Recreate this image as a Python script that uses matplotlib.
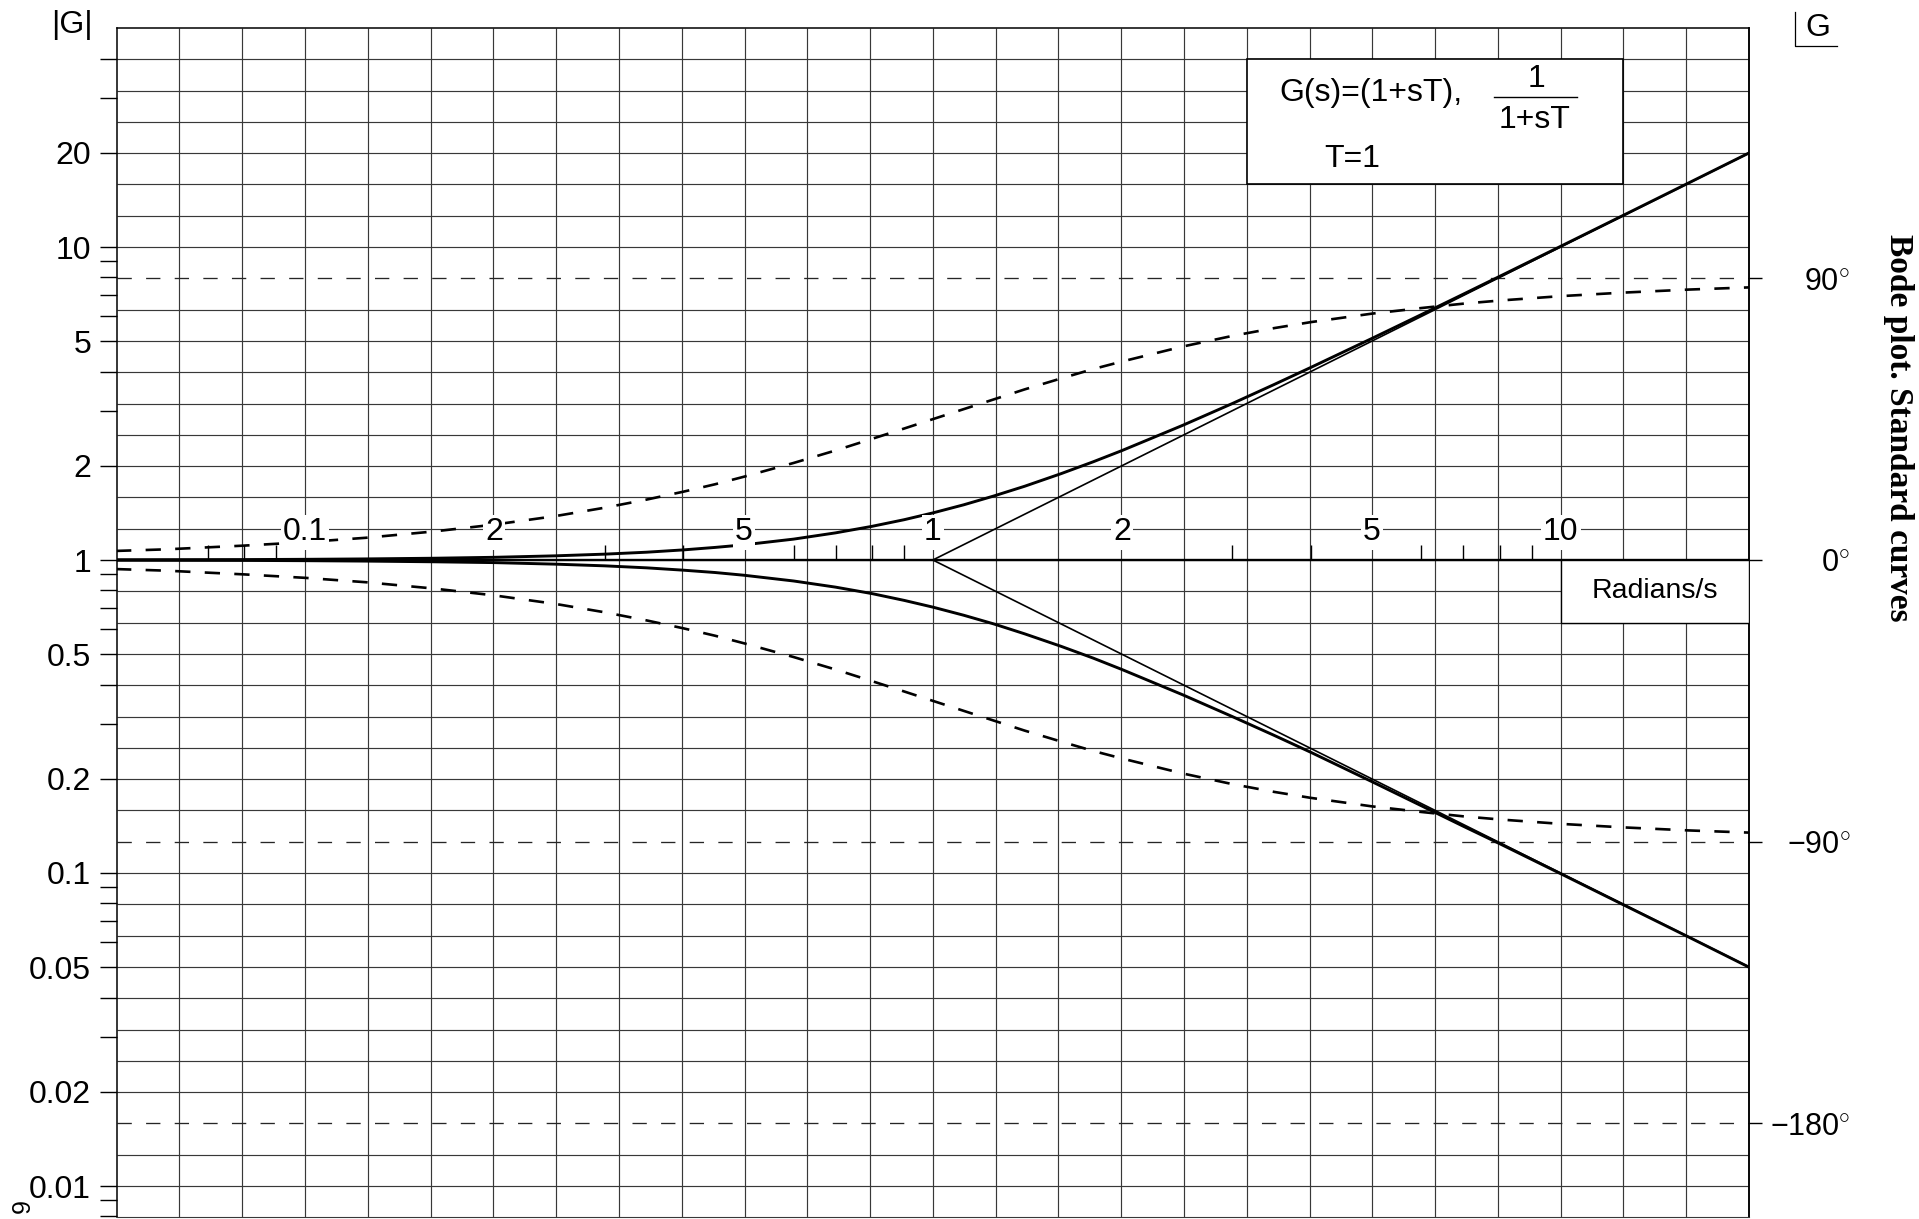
import matplotlib
matplotlib.use('Agg')
import matplotlib.pyplot as plt
import numpy as np
from matplotlib.patches import Rectangle
from matplotlib.lines import Line2D
from matplotlib.ticker import NullFormatter, NullLocator

plt.rcParams['font.family'] = ['Liberation Sans', 'DejaVu Sans']
plt.rcParams['mathtext.fontset'] = 'custom'
plt.rcParams['mathtext.rm'] = 'Liberation Sans'
plt.rcParams['mathtext.it'] = 'Liberation Sans:italic'
plt.rcParams['mathtext.bf'] = 'Liberation Sans:bold'
plt.rcParams['lines.scale_dashes'] = False

# ---------------- data ----------------
omega = [0.05, 0.06, 0.08, 0.1, 0.125, 0.16, 0.2, 0.25, 0.3, 0.35, 0.4, 0.45,
         0.5, 0.6, 0.7, 0.8, 0.9, 1.0, 1.12, 1.25, 1.4, 1.6, 1.8, 2.0, 2.5,
         3.0, 3.5, 4.0, 5.0, 6.0, 7.0, 8.0, 10.0, 12.5, 16.0, 20.0]
mag_lead = [1.001, 1.002, 1.003, 1.005, 1.008, 1.013, 1.020, 1.031, 1.044,
            1.059, 1.077, 1.097, 1.118, 1.166, 1.221, 1.281, 1.345, 1.414,
            1.501, 1.601, 1.720, 1.887, 2.059, 2.236, 2.693, 3.162, 3.640,
            4.123, 5.099, 6.083, 7.071, 8.062, 10.05, 12.54, 16.03, 20.02]
mag_lag = [0.999, 0.998, 0.997, 0.995, 0.992, 0.987, 0.981, 0.970, 0.958,
           0.944, 0.928, 0.912, 0.894, 0.857, 0.819, 0.781, 0.743, 0.707,
           0.666, 0.625, 0.581, 0.530, 0.486, 0.447, 0.371, 0.316, 0.275,
           0.243, 0.196, 0.164, 0.141, 0.124, 0.0995, 0.0797, 0.0624, 0.0499]
phase_lead = [2.9, 3.4, 4.6, 5.7, 7.1, 9.1, 11.3, 14.0, 16.7, 19.3, 21.8, 24.2,
              26.6, 31.0, 35.0, 38.7, 42.0, 45.0, 48.2, 51.3, 54.5, 58.0, 61.0,
              63.4, 68.2, 71.6, 74.1, 76.0, 78.7, 80.5, 81.9, 82.9, 84.3, 85.4,
              86.4, 87.1]
phase_lag = [-2.9, -3.4, -4.6, -5.7, -7.1, -9.1, -11.3, -14.0, -16.7, -19.3,
             -21.8, -24.2, -26.6, -31.0, -35.0, -38.7, -42.0, -45.0, -48.2,
             -51.3, -54.5, -58.0, -61.0, -63.4, -68.2, -71.6, -74.1, -76.0,
             -78.7, -80.5, -81.9, -82.9, -84.3, -85.4, -86.4, -87.1]
asym_omega = [1, 20]
asym_lead = [1, 20]
asym_lag = [1, 0.05]

phase_refs = [90, -90, -180]
phase_ticks = [90, 0, -90, -180]
phase_tick_labels = [r'$\mathregular{90}^{\circ}$', r'$\mathregular{0}^{\circ}$',
                     r'$\mathregular{-90}^{\circ}$', r'$\mathregular{-180}^{\circ}$']

mag_ticks = [20, 10, 5, 2, 1, 0.5, 0.2, 0.1, 0.05, 0.02, 0.01]
mag_tick_labels = ['20', '10', '5', '2', '1', '0.5', '0.2', '0.1', '0.05', '0.02', '0.01']
mag_minor = [40, 30, 9, 8, 7, 6, 4, 3, 0.9, 0.8, 0.7, 0.6, 0.4, 0.3,
             0.09, 0.08, 0.07, 0.06, 0.04, 0.03, 0.009, 0.008]

freq_label_pos = [0.1, 0.2, 0.5, 1, 2, 5, 10]
freq_labels = ['0.1', '2', '5', '1', '2', '5', '10']
freq_minor = [0.07, 0.08, 0.09, 0.3, 0.4, 0.6, 0.7, 0.8, 0.9, 3, 4, 6, 7, 8, 9]

# ---------------- figure ----------------
W, H = 1919, 1219
fig = plt.figure(figsize=(W / 100, H / 100), dpi=100, facecolor='white')
L, R, T, B = 116.7, 1749.0, 27.9, 1217.3
ax = fig.add_axes([L / W, (H - B) / H, (R - L) / W, (B - T) / H])
ax.set_xscale('log')
ax.set_yscale('log')
ax.set_xlim(10 ** -1.3, 10 ** 1.3)
ax.set_ylim(10 ** -2.1, 10 ** 1.7)

ax2 = ax.twinx()
ax2.set_ylim(-210, 170)
ax.set_zorder(ax2.get_zorder() + 1)
ax.patch.set_visible(False)

# grid (0.1-decade squares) on the background axis
grid_x = [10 ** (k / 10) for k in range(-12, 13)]
grid_y_ph = [10 * k for k in range(-20, 17) if 10 * k not in phase_refs]
gcol = '#383838'
ax2.vlines(grid_x, 0, 1, transform=ax2.get_xaxis_transform(), colors=gcol,
           lw=0.85, zorder=0.5)
ax2.hlines(grid_y_ph, 0, 1, transform=ax2.get_yaxis_transform(), colors=gcol,
           lw=0.85, zorder=0.5)

# phase reference dashed lines
for p in phase_refs:
    ax2.axhline(p, color='#262626', lw=0.95, dashes=(10.3, 10.3), zorder=1)

# phase curves
ax2.plot(omega, phase_lead, color='black', lw=1.9, dashes=(11.0, 10.3), zorder=2)
ax2.plot(omega, phase_lag, color='black', lw=1.9, dashes=(11.0, 10.3), zorder=2)

# frequency axis at |G| = 1
ax.axhline(1, color='black', lw=1.7, zorder=3)
ax.vlines(freq_minor, 1, 10 ** (15 / 313), colors='black', lw=1.0, zorder=3)

# magnitude curves and asymptotes
ax.plot(omega, mag_lead, color='black', lw=2.1, zorder=3)
ax.plot(omega, mag_lag, color='black', lw=2.1, zorder=3)
ax.plot(asym_omega, asym_lead, color='black', lw=1.2, zorder=3)
ax.plot(asym_omega, asym_lag, color='black', lw=1.2, zorder=3)

# frequency labels
for pos, lab in zip(freq_label_pos, freq_labels):
    ax.text(pos, 10 ** 0.088, lab, ha='center', va='center', fontsize=23,
            zorder=6, bbox=dict(facecolor='white', edgecolor='none', pad=1.5))

# legend box
ax.add_patch(Rectangle((10 ** 0.5, 10 ** 1.2), 10 ** 1.1 - 10 ** 0.5,
                       10 ** 1.6 - 10 ** 1.2, facecolor='white',
                       edgecolor='black', lw=1.2, zorder=7))
ax.text(0.7120, 0.9453, 'G(s)=(1+sT),', transform=ax.transAxes, ha='left',
        va='center', fontsize=23, zorder=8)
ax.text(0.8700, 0.9568, '1', transform=ax.transAxes, ha='center',
        va='center', fontsize=23, zorder=8)
ax.plot([0.8438, 0.8946], [0.9422, 0.9422], transform=ax.transAxes,
        color='black', lw=1.0, zorder=8)
ax.text(0.8689, 0.9226, '1+sT', transform=ax.transAxes, ha='center',
        va='center', fontsize=23, zorder=8)
ax.text(0.7395, 0.8900, 'T=1', transform=ax.transAxes, ha='left',
        va='center', fontsize=23, zorder=8)

# Radians/s box
ax.add_patch(Rectangle((10, 10 ** -0.2), 10 ** 1.3 - 10, 1 - 10 ** -0.2,
                       facecolor='white', edgecolor='black', lw=1.0, zorder=7))
ax.text(10 ** 1.15, 10 ** -0.1, 'Radians/s', ha='center', va='center',
        fontsize=20.5, zorder=8)

# left magnitude axis
ax.set_yticks(mag_ticks, labels=mag_tick_labels)
ax.set_yticks(mag_minor, minor=True)
ax.yaxis.set_minor_formatter(NullFormatter())
ax.tick_params(axis='y', which='both', direction='out', length=12, width=1.0,
               labelsize=23, pad=6.5, right=False, left=True)
ax.tick_params(axis='x', which='both', bottom=False, top=False,
               labelbottom=False)
ax.xaxis.set_minor_locator(NullLocator())
ax.xaxis.set_major_locator(NullLocator())

# right phase axis
ax2.set_yticks(phase_ticks, labels=['' for _ in phase_ticks])
ax2.yaxis.set_minor_locator(NullLocator())
ax2.tick_params(axis='y', which='both', direction='out', length=9, width=1.0)
for p, lab in zip(phase_ticks, phase_tick_labels):
    ax2.text(1.0619, p - 3.6, lab, transform=ax2.get_yaxis_transform(),
             ha='right', va='baseline', fontsize=22)

for s in ['top', 'left', 'right']:
    ax.spines[s].set_linewidth(1.1)
    ax.spines[s].set_color('black')
ax.spines['bottom'].set_linewidth(0.8)
ax.spines['bottom'].set_color(gcol)
for s in ['top', 'left', 'bottom']:
    ax2.spines[s].set_visible(False)
ax2.spines['right'].set_linewidth(1.1)

# header labels
fig.text(72 / W, 1 - 25 / H, '|G|', ha='center', va='center', fontsize=23)
fig.text(1818 / W, 1 - 28 / H, 'G', ha='center', va='center', fontsize=23)
fig.add_artist(Line2D([1795 / W, 1795 / W, 1837 / W],
                      [1 - 11.7 / H, 1 - 46 / H, 1 - 46 / H],
                      transform=fig.transFigure, color='black', lw=0.9))

fig.text(1898 / W, 1 - 428 / H, 'Bode plot. Standard curves', rotation=-90,
         ha='center', va='center', fontsize=24, fontweight='bold',
         family=['Liberation Serif', 'DejaVu Serif'])
fig.text(17 / W, 1 - 1208 / H, '6', rotation=-90, ha='center', va='center',
         fontsize=18)

fig.savefig('out.png', dpi=100, facecolor='white')
